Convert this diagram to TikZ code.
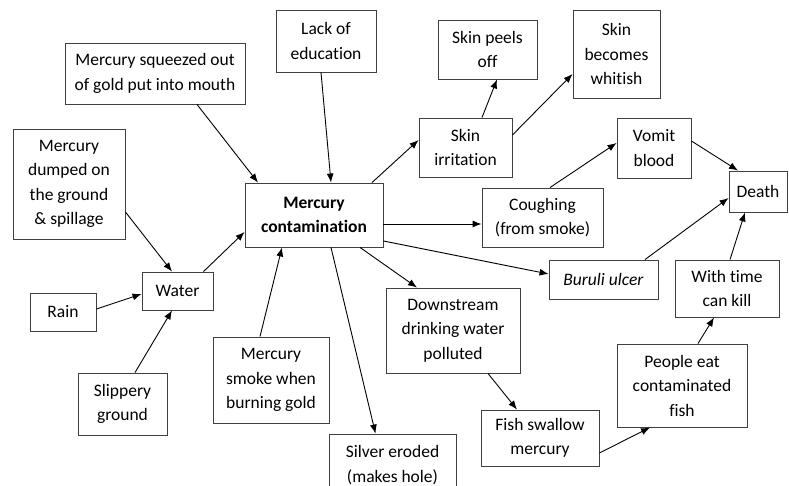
\documentclass[tikz,border=0pt]{standalone}
\usepackage{fontspec}
\setmainfont{Carlito}[Ligatures=NoCommon]
\usetikzlibrary{arrows.meta,calc}

\begin{document}
\begin{tikzpicture}[x=1pt, y=-1pt, every node/.style={font=\fontsize{17.5}{24.5}\selectfont},
  box/.style={draw=black!75, line width=0.9pt, align=center, inner sep=0pt},
  arr/.style={-{Latex[length=9pt,width=7pt]}, line width=0.9pt}]
\useasboundingbox (0,0) rectangle (789,486);
\clip (0,0) rectangle (789,486);
\node[box, minimum width=100pt, minimum height=62pt] (lack) at (326,41) {Lack of\\education};
\node[box, minimum width=180pt, minimum height=61pt] (sq) at (155,73.5) {Mercury squeezed out\\of gold put into mouth};
\node[box, minimum width=112pt, minimum height=110pt] (dump) at (69,184) {Mercury\\dumped on\\the ground\\\& spillage};
\node[box, minimum width=71pt, minimum height=38pt] (water) at (177.5,291) {Water};
\node[box, minimum width=66pt, minimum height=38pt] (rain) at (63,312) {Rain};
\node[box, minimum width=89pt, minimum height=62pt] (slip) at (122.5,404) {Slippery\\ground};
\node[box, minimum width=138pt, minimum height=64pt] (cont) at (314,215) {\textbf{Mercury}\\\textbf{contamination}};
\node[box, minimum width=116pt, minimum height=86pt] (smoke) at (271,380) {Mercury\\smoke when\\burning gold};
\node[box, minimum width=127pt, minimum height=62pt] (silver) at (392.5,465) {Silver eroded\\(makes hole)};
\node[box, minimum width=134pt, minimum height=85pt] (down) at (453,330.5) {Downstream\\drinking water\\polluted};
\node[box, minimum width=118pt, minimum height=56pt] (fish) at (540,438) {Fish swallow\\mercury};
\node[box, minimum width=130pt, minimum height=83pt] (people) at (682,385.5) {People eat\\contaminated\\fish};
\node[box, minimum width=104pt, minimum height=57pt] (withtime) at (727,288.5) {With time\\can kill};
\node[box, minimum width=109pt, minimum height=39pt] (buruli) at (603.5,279.5) {\textit{Buruli ulcer}};
\node[box, minimum width=58pt, minimum height=41pt] (death) at (758,191.5) {Death};
\node[box, minimum width=74pt, minimum height=60pt] (vomit) at (654,148) {Vomit\\blood};
\node[box, minimum width=121pt, minimum height=59pt] (cough) at (542.5,217.5) {Coughing\\(from smoke)};
\node[box, minimum width=93pt, minimum height=59pt] (irr) at (465.5,147.5) {Skin\\irritation};
\node[box, minimum width=99pt, minimum height=59pt] (peels) at (487.5,49.5) {Skin peels\\off};
\node[box, minimum width=87pt, minimum height=88pt] (whitish) at (616.5,54) {Skin\\becomes\\whitish};

\draw[arr] ($(sq.south)+(42,0)$) -- ($(cont.north)+(-56,0)$);
\draw[arr] ($(lack.south)+(-5,0)$) -- ($(cont.north)+(17,0)$);
\draw[arr] ($(dump.east)+(0,28)$) -- ($(water.north)+(-5.5,0)$);
\draw[arr] ($(rain.east)+(0,-3)$) -- ($(water.west)+(0,3)$);
\draw[arr] ($(slip.north)+(12.5,0)$) -- ($(water.south)+(-5.5,0)$);
\draw[arr] ($(water.north)+(26,0)$) -- ($(cont.west)+(0,17)$);
\draw[arr] ($(smoke.north)+(-11,0)$) -- ($(cont.south)+(-32,0)$);
\draw[arr] ($(cont.south)+(17,0)$) -- ($(silver.north)+(-17,0)$);
\draw[arr] ($(cont.south)+(46,0)$) -- ($(down.north)+(-36,0)$);
\draw[arr] ($(down.south)+(35,0)$) -- ($(fish.north)+(-23,0)$);
\draw[arr] ($(fish.east)+(0,15)$) -- ($(people.south)+(-32,0)$);
\draw[arr] ($(people.north)+(16,0)$) -- ($(withtime.south)+(-13,0)$);
\draw[arr] ($(withtime.north)+(3,0)$) -- ($(death.south)+(-13,0)$);
\draw[arr] ($(buruli.north)+(41.5,0)$) -- ($(death.west)+(0,6.5)$);
\draw[arr] ($(cont.east)+(0,26)$) -- ($(buruli.west)+(0,-5.5)$);
\draw[arr] ($(cont.east)+(0,9)$) -- ($(cough.west)+(0,6.5)$);
\draw[arr] ($(cough.north)+(7.5,0)$) -- ($(vomit.west)+(0,-5)$);
\draw[arr] ($(vomit.east)+(0,-7)$) -- ($(death.north)+(-20,0)$);
\draw[arr] ($(cont.north)+(58,0)$) -- ($(irr.west)+(0,-7.5)$);
\draw[arr] ($(irr.north)+(16.5,0)$) -- ($(peels.south)+(9.5,0)$);
\draw[arr] ($(irr.east)+(0,-12.5)$) -- ($(whitish.west)+(0,20)$);
\end{tikzpicture}
\end{document}
